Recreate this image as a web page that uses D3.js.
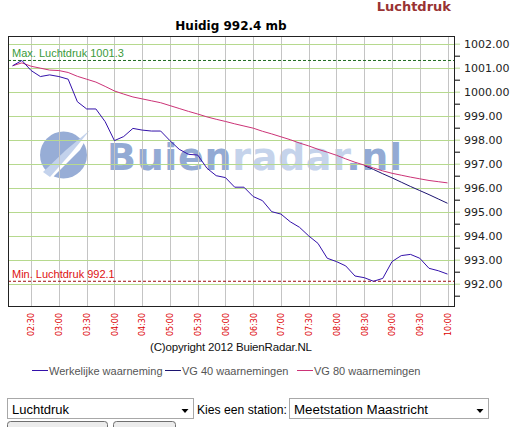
<!DOCTYPE html>
<html><head><meta charset="utf-8">
<script src="https://cdn.jsdelivr.net/npm/d3@7"></script>
<style>
html,body{margin:0;padding:0;background:#fff;}
svg{display:block;}
</style></head>
<body>
<svg id="c" width="523" height="427"></svg>
<script>
// ---- data ----
const times = ["02:10","02:20","02:30","02:40","02:50","03:00","03:10","03:20","03:30","03:40","03:50",
 "04:00","04:10","04:20","04:30","04:40","04:50","05:00","05:10","05:20","05:30","05:40","05:50",
 "06:00","06:10","06:20","06:30","06:40","06:50","07:00","07:10","07:20","07:30","07:40","07:50",
 "08:00","08:10","08:20","08:30","08:40","08:50","09:00","09:10","09:20","09:30","09:40","09:50","10:00"];
const actual = [1001.08,1001.30,1000.88,1000.63,1000.70,1000.63,1000.52,999.58,999.28,999.28,998.75,
 997.96,998.13,998.47,998.40,998.36,998.36,997.96,997.60,997.39,997.36,996.81,996.50,
 996.42,996.02,996.02,995.63,995.46,995.00,994.90,994.58,994.35,993.99,993.68,993.06,
 992.92,992.74,992.32,992.25,992.10,992.22,992.92,993.17,993.22,993.06,992.64,992.54,992.40];
const vg80 = [1001.08,1001.20,1001.06,1000.98,1000.90,1000.88,1000.80,1000.64,1000.52,1000.40,1000.22,
 1000.03,999.90,999.78,999.70,999.62,999.54,999.42,999.30,999.18,999.07,998.95,998.85,
 998.76,998.66,998.57,998.48,998.35,998.24,998.12,998.00,997.86,997.74,997.60,997.48,
 997.35,997.20,997.06,996.94,996.82,996.70,996.60,996.52,996.44,996.37,996.30,996.25,996.20];
const vg40Times = ["08:30","08:40","08:50","09:00","09:10","09:20","09:30","09:40","09:50","10:00"];
const vg40 = [996.92,996.76,996.58,996.41,996.23,996.05,995.88,995.71,995.53,995.35];
const xTickLabels = ["02:30","03:00","03:30","04:00","04:30","05:00","05:30","06:00","06:30","07:00",
 "07:30","08:00","08:30","09:00","09:30","10:00"];
const yTickValues = [992,993,994,995,996,997,998,999,1000,1001,1002];
const yMinorValues = [991.5,992.5,993.5,994.5,995.5,996.5,997.5,998.5,999.5,1000.5,1001.5];
const maxVal = 1001.3, minVal = 992.1, current = 992.4;
const seriesNames = ["Werkelijke waarneming","VG 40 waarnemingen","VG 80 waarnemingen"];
const seriesColors = ["#3311aa","#1c1470","#cc3377"];

// ---- scales ----
const parse = d3.timeParse("%H:%M");
const L = 8, R = 454, T = 36, B = 306;
const x = d3.scaleTime().domain([parse("02:05"), parse("10:07")]).range([L, R]);
const y = d3.scaleLinear().domain([991.07, 1002.32]).range([B, T]);

const svg = d3.select("#c");
const sans = "'Liberation Sans', Arial, sans-serif";
const dv = "'DejaVu Sans', Verdana, sans-serif";

// titles
svg.append("text").attr("x", 451).attr("y", 11).attr("text-anchor","end")
  .attr("font-family", dv).attr("font-weight","bold").attr("font-size", 13)
  .attr("fill","#993333").text("Luchtdruk");
svg.append("text").attr("x", 231).attr("y", 30).attr("text-anchor","middle")
  .attr("font-family", dv).attr("font-weight","bold").attr("font-size", 12)
  .attr("fill","#000").text("Huidig " + current.toFixed(1) + " mb");

// watermark
const wm = svg.append("g");
wm.append("circle").attr("cx", 63.5).attr("cy", 155).attr("r", 23.5).attr("fill", "#97add6");
wm.append("path").attr("d","M92,128 L80,150 L48,182 L40,176 L70,150 Z").attr("fill","#fff");
wm.append("path").attr("d","M90,130 L72,152 L50,177 L43,172 L66,150 Z").attr("fill","#c3d2ec");
const wt = wm.append("text").attr("x", 107).attr("y", 170)
  .attr("font-family", dv).attr("font-weight","bold").attr("font-size", 38)
  .attr("textLength", 295).attr("lengthAdjust","spacing");
wt.append("tspan").attr("fill","#93aad4").text("Buien");
wt.append("tspan").attr("fill","#c5d3eb").text("radar");
wt.append("tspan").attr("fill","#93aad4").text(".nl");

// grid
svg.append("g").selectAll("line").data(xTickLabels).join("line")
  .attr("x1", d => Math.round(x(parse(d))) + 0.5).attr("x2", d => Math.round(x(parse(d))) + 0.5)
  .attr("y1", T).attr("y2", B).attr("stroke", "#c4c4c4").attr("stroke-width", 1);
svg.append("g").selectAll("line").data(yTickValues).join("line")
  .attr("x1", L).attr("x2", R).attr("y1", d => Math.round(y(d)) + 0.5).attr("y2", d => Math.round(y(d)) + 0.5)
  .attr("stroke", "#b6d98e").attr("stroke-width", 1);

// right axis
const yAxis = d3.axisRight(y).tickValues(yTickValues).tickSize(6).tickPadding(4)
  .tickFormat(d3.format(".2f"));
const ya = svg.append("g").attr("transform", `translate(${R},0)`).call(yAxis);
ya.select(".domain").remove();
ya.selectAll(".tick line").attr("stroke", "#b6d98e");
ya.selectAll(".tick text").attr("font-family", dv).attr("font-size", 11).attr("fill", "#222");
const yMinor = d3.axisRight(y).tickValues(yMinorValues).tickSize(6).tickFormat("");
const ym = svg.append("g").attr("transform", `translate(${R},0)`).call(yMinor);
ym.select(".domain").remove();
ym.selectAll(".tick line").attr("stroke", "#000");

// bottom axis labels (rotated)
const xAxis = d3.axisBottom(x).tickValues(xTickLabels.map(parse)).tickSize(0)
  .tickFormat(d3.timeFormat("%H:%M"));
const xa = svg.append("g").attr("transform", `translate(0,${B})`).call(xAxis);
xa.select(".domain").remove();
xa.selectAll(".tick text").attr("transform","rotate(-90)").attr("x", -7).attr("y", 0)
  .attr("dy","0.35em").attr("text-anchor","end")
  .attr("font-family", dv).attr("font-size", 8).attr("fill", "#dd0000");

// max/min lines
svg.append("line").attr("x1", L).attr("x2", R).attr("y1", y(maxVal)).attr("y2", y(maxVal))
  .attr("stroke", "#1f6b1f").attr("stroke-dasharray", "3,2");
svg.append("text").attr("x", 12).attr("y", y(maxVal) - 3).attr("font-family", sans).attr("font-size", 11)
  .attr("fill", "#3a9a3a").text("Max. Luchtdruk " + maxVal.toFixed(1));
svg.append("line").attr("x1", L).attr("x2", R).attr("y1", y(minVal)).attr("y2", y(minVal))
  .attr("stroke", "#a01010").attr("stroke-dasharray", "3,2");
svg.append("text").attr("x", 12).attr("y", y(minVal) - 3).attr("font-family", sans).attr("font-size", 11)
  .attr("fill", "#dd1111").text("Min. Luchtdruk " + minVal.toFixed(1));

// series
const line = d3.line().x(d => x(d[0])).y(d => y(d[1]));
svg.append("path").datum(vg40Times.map((t, i) => [parse(t), vg40[i]]))
  .attr("d", line).attr("fill","none").attr("stroke", seriesColors[1]).attr("stroke-width", 1);
svg.append("path").datum(times.map((t, i) => [parse(t), vg80[i]]))
  .attr("d", line).attr("fill","none").attr("stroke", seriesColors[2]).attr("stroke-width", 1);
svg.append("path").datum(times.map((t, i) => [parse(t), actual[i]]))
  .attr("d", line).attr("fill","none").attr("stroke", seriesColors[0]).attr("stroke-width", 1);

// frame
svg.append("rect").attr("x", L + 0.5).attr("y", T + 0.5).attr("width", R - L).attr("height", B - T)
  .attr("fill","none").attr("stroke","#222");

// copyright
svg.append("text").attr("x", 231).attr("y", 351).attr("text-anchor","middle")
  .attr("font-family", sans).attr("font-size", 11.5).attr("fill","#111")
  .attr("textLength", 162).attr("lengthAdjust","spacing")
  .text("(C)opyright 2012 BuienRadar.NL");

// legend
const legX = [32, 165, 297];
const leg = svg.append("g").selectAll("g").data(seriesNames).join("g")
  .attr("transform", (d, i) => `translate(${legX[i]},0)`);
leg.append("line").attr("x1", 0).attr("x2", 16).attr("y1", 370.5).attr("y2", 370.5)
  .attr("stroke", (d, i) => seriesColors[i]).attr("stroke-width", 1);
leg.append("text").attr("x", 17).attr("y", 374.5).attr("font-family", sans).attr("font-size", 11)
  .attr("fill", "#555").text(d => d);

// form controls
function selectBox(x0, w, label, len) {
  const g = svg.append("g");
  g.append("rect").attr("x", x0 + 0.5).attr("y", 398.5).attr("width", w).attr("height", 20)
    .attr("fill", "#fff").attr("stroke", "#a8a8a8");
  const t = g.append("text").attr("x", x0 + 5).attr("y", 414).attr("font-family", sans).attr("font-size", 13)
    .attr("fill", "#000").text(label);
  if (len) t.attr("textLength", len).attr("lengthAdjust", "spacingAndGlyphs");
  const ax = x0 + w - 8;
  g.append("path").attr("d", `M${ax - 3.5},409 L${ax + 3.5},409 L${ax},413 Z`).attr("fill", "#000");
}
selectBox(7, 186, "Luchtdruk");
svg.append("text").attr("x", 197).attr("y", 414).attr("font-family", sans).attr("font-size", 13)
  .attr("fill", "#000").attr("textLength", 90).attr("lengthAdjust", "spacingAndGlyphs")
  .text("Kies een station:");
selectBox(289, 199, "Meetstation Maastricht", 134);
function button(x0, w, label) {
  const g = svg.append("g");
  g.append("rect").attr("x", x0 + 0.5).attr("y", 421.5).attr("width", w).attr("height", 20).attr("rx", 3)
    .attr("fill", "#ececec").attr("stroke", "#707070");
  g.append("text").attr("x", x0 + w / 2).attr("y", 436).attr("text-anchor","middle")
    .attr("font-family", sans).attr("font-size", 13).attr("fill", "#000").text(label);
}
button(7, 100, "Maak grafiek");
button(113, 62, "Tabel");
</script>
</body></html>
